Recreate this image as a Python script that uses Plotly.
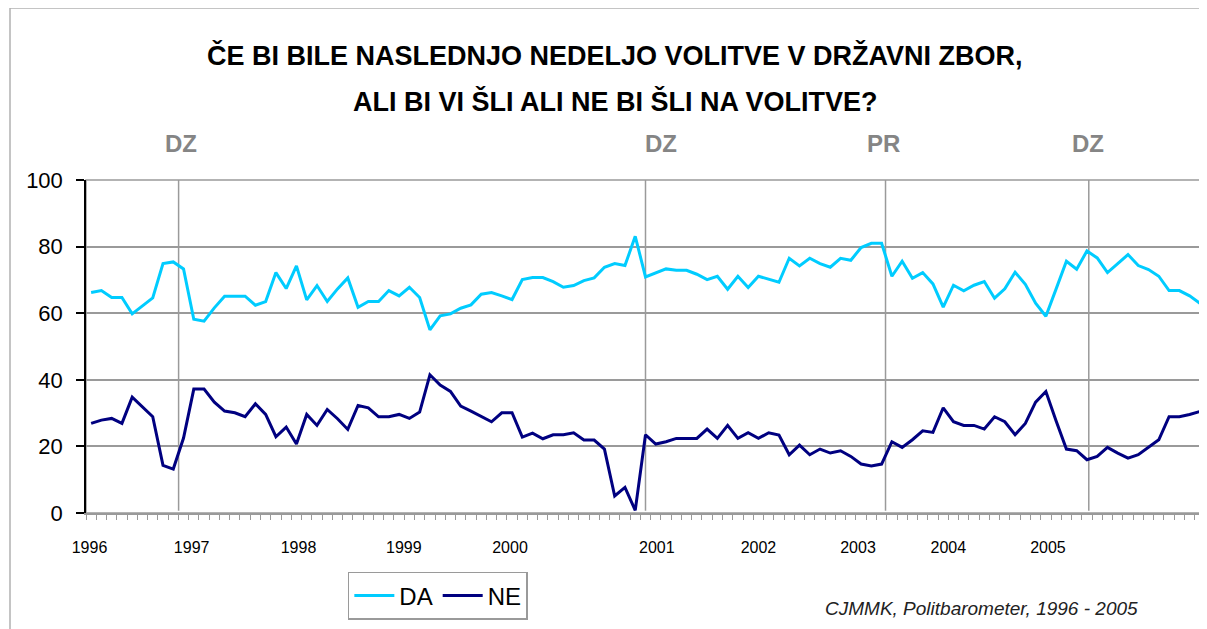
import plotly.graph_objects as go

# ---- data ----
da = [66.2, 66.8, 64.7, 64.7, 59.8, 62.3, 64.6, 74.9, 75.4, 73.3,
      58.2, 57.6, 61.6, 65.1, 65.1, 65.1, 62.4, 63.5, 72.2, 67.4,
      74.2, 64.0, 68.3, 63.5, 67.3, 70.6, 61.8, 63.5, 63.5, 66.8,
      65.2, 67.8, 64.7, 55.0, 59.2, 59.8, 61.5, 62.5, 65.7, 66.2,
      65.2, 64.1, 70.1, 70.7, 70.7, 69.5, 67.8, 68.3, 69.8, 70.6,
      73.8, 74.9, 74.3, 83.1, 70.9, 72.2, 73.3, 72.9, 72.9, 71.7,
      70.1, 71.1, 67.2, 71.1, 67.7, 71.1, 70.2, 69.3, 76.5, 74.2,
      76.5, 74.9, 73.8, 76.5, 75.9, 79.7, 81.0, 81.0, 71.1, 75.6,
      70.5, 72.2, 68.8, 61.8, 68.4, 66.7, 68.4, 69.5, 64.5, 67.3,
      72.3, 68.7, 63.0, 59.1, 67.3, 75.6, 73.2, 78.7, 76.6, 72.2,
      74.9, 77.6, 74.3, 73.1, 71.1, 66.8, 66.8, 65.2, 63.0]

ne = [26.9, 27.9, 28.4, 26.9, 34.8, 31.9, 28.9, 14.3, 13.2, 22.5,
      37.2, 37.2, 33.3, 30.6, 30.1, 28.9, 32.8, 29.6, 22.9, 25.8,
      20.7, 29.6, 26.3, 31.1, 28.3, 25.1, 32.3, 31.6, 28.9, 28.9,
      29.6, 28.4, 30.3, 41.5, 38.4, 36.5, 32.1, 30.6, 29.1, 27.4,
      30.1, 30.1, 22.8, 24.0, 22.3, 23.5, 23.5, 24.1, 21.9, 21.9,
      19.2, 5.1, 7.7, 0.8, 23.5, 20.7, 21.4, 22.4, 22.4, 22.4,
      25.2, 22.4, 26.3, 22.4, 24.1, 22.4, 24.1, 23.4, 17.5, 20.4,
      17.5, 19.2, 18.0, 18.7, 17.0, 14.7, 14.1, 14.7, 21.4, 19.7,
      22.0, 24.7, 24.2, 31.6, 27.4, 26.3, 26.3, 25.2, 28.9, 27.4,
      23.5, 26.9, 33.3, 36.5, 27.6, 19.2, 18.7, 16.0, 17.0, 19.7,
      18.0, 16.5, 17.5, 19.8, 22.0, 28.9, 28.9, 29.6, 30.5]

year_labels = ["1996", "1997", "1998", "1999", "2000",
               "2001", "2002", "2003", "2004", "2005"]
year_label_pos = [-0.16, 9.79, 20.2, 30.46, 40.8, 55.1, 65.0, 74.7, 83.5, 93.2]

event_names = ["DZ", "DZ", "PR", "DZ"]
event_line_pos = [8.52, 54.0, 77.38, 97.18]
event_label_pos = [8.72, 55.5, 77.15, 97.14]

title_lines = ["ČE BI BILE NASLEDNJO NEDELJO VOLITVE V DRŽAVNI ZBOR,",
               "ALI BI VI ŠLI ALI NE BI ŠLI NA VOLITVE?"]
source_text = "CJMMK, Politbarometer, 1996 - 2005"

# ---- styling ----
# The page body adds an 8px margin, so the figure is 8px smaller than the window
# and every position below is relative to the plot area.
FONT = "Liberation Sans, Arial, sans-serif"
GRID = "#9a9a9a"
PW, PH = 1119, 333          # plot area size in px
x = list(range(len(da)))

fig = go.Figure()
fig.add_trace(go.Scatter(x=x, y=da, mode="lines", name="DA",
                         line=dict(color="#00CCFF", width=3)))
fig.add_trace(go.Scatter(x=x, y=ne, mode="lines", name="NE",
                         line=dict(color="#000080", width=3)))

shapes = []
shapes.append(dict(type="rect", xref="paper", yref="paper", x0=0, x1=1, y0=0, y1=1,
                   line=dict(color=GRID, width=1.5), layer="below"))
# outer chart border (left and top)
bx, by = -76 / PW, 505 / PH
shapes.append(dict(type="line", xref="paper", yref="paper", x0=bx, x1=bx, y0=by, y1=-1,
                   line=dict(color="#b0b0b0", width=1.5)))
shapes.append(dict(type="line", xref="paper", yref="paper", x0=bx, x1=1.2, y0=by, y1=by,
                   line=dict(color="#b0b0b0", width=1.5)))
for p in event_line_pos:
    shapes.append(dict(type="line", xref="x", yref="y", x0=p, x1=p, y0=0.7, y1=101.5,
                       line=dict(color=GRID, width=1.5), layer="between"))

annotations = []
for name, p in zip(event_names, event_label_pos):
    annotations.append(dict(x=p, y=1.111, xref="x", yref="paper", text=name,
                            showarrow=False, xanchor="center", yanchor="middle",
                            font=dict(family=FONT, size=24, color="#858585", weight="bold")))
annotations.append(dict(x=0.473, y=1.375, xref="paper", yref="paper", text=title_lines[0],
                        showarrow=False, xanchor="center", yanchor="middle",
                        font=dict(family=FONT, size=27, color="#000000", weight="bold")))
annotations.append(dict(x=0.473, y=1.237, xref="paper", yref="paper", text=title_lines[1],
                        showarrow=False, xanchor="center", yanchor="middle",
                        font=dict(family=FONT, size=27, color="#000000", weight="bold")))
annotations.append(dict(x=0.942, y=-0.288, xref="paper", yref="paper", text=source_text,
                        showarrow=False, xanchor="right", yanchor="middle",
                        font=dict(family=FONT, size=19, color="#222222", style="italic")))

fig.update_layout(
    width=1199, height=621,
    margin=dict(l=78, r=2, t=172, b=116, autoexpand=False),
    paper_bgcolor="white", plot_bgcolor="white",
    font=dict(family=FONT, color="black"),
    showlegend=True,
    legend=dict(orientation="h", x=0.234, y=-0.177, xanchor="left", yanchor="top",
                bordercolor="#9a9a9a", borderwidth=1.5, bgcolor="white",
                font=dict(family=FONT, size=24, color="black"),
                itemwidth=40, tracegroupgap=0),
    shapes=shapes, annotations=annotations,
)
fig.update_xaxes(range=[-0.5, len(da) - 0.5], showgrid=False, zeroline=False,
                 tickmode="array", tickvals=year_label_pos, ticktext=year_labels,
                 ticks="", ticklabelstandoff=19,
                 tickfont=dict(family=FONT, size=16, color="black"),
                 showline=True, linecolor=GRID, linewidth=1.5,
                 minor=dict(tickmode="linear", tick0=-0.5, dtick=1, ticks="outside",
                            ticklen=5, tickcolor=GRID, tickwidth=1, showgrid=False))
fig.update_yaxes(range=[0, 100], tickvals=[0, 20, 40, 60, 80, 100],
                 showgrid=True, gridcolor=GRID, gridwidth=1.5, zeroline=False,
                 ticks="outside", ticklen=8, tickcolor="black", tickwidth=1.5,
                 ticklabelstandoff=9,
                 tickfont=dict(family=FONT, size=22, color="black"),
                 showline=True, linecolor="black", linewidth=1.5)

fig.write_html("out.html")
